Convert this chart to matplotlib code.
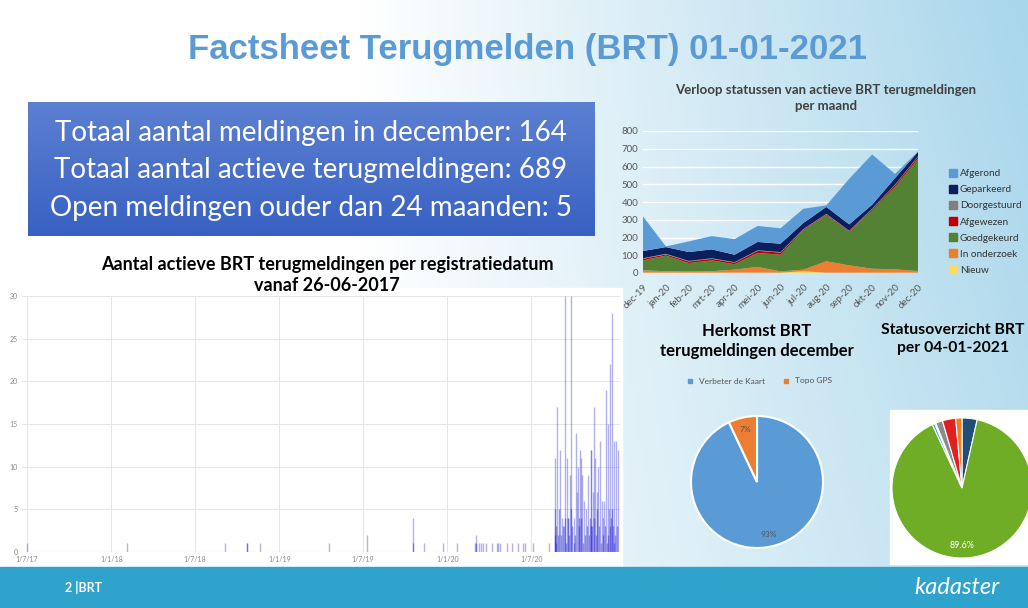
import matplotlib
matplotlib.use("Agg")
import matplotlib.pyplot as plt
import matplotlib.dates as mdates
import numpy as np
from matplotlib import font_manager
from matplotlib.patches import Rectangle
from matplotlib.lines import Line2D

W, H = 1028, 608

# --- data -----------------------------------------------------------------
# stacked area: active reports per status per month
months = ['dec-19', 'jan-20', 'feb-20', 'mrt-20', 'apr-20', 'mei-20', 'jun-20',
          'jul-20', 'aug-20', 'sep-20', 'okt-20', 'nov-20', 'dec-20']
nieuw = [2, 2, 2, 2, 2, 2, 2, 10, 2, 2, 2, 2, 2]
in_onderzoek = [13, 8, 6, 8, 17, 32, 7, 9, 64, 41, 22, 19, 9]
goedgekeurd = [56, 88, 48, 61, 30, 79, 94, 221, 259, 188, 329, 464, 633]
afgewezen = [9, 7, 9, 9, 9, 12, 12, 5, 5, 4, 7, 10, 11]
doorgestuurd = [3, 3, 3, 3, 3, 3, 3, 3, 3, 3, 3, 3, 3]
geparkeerd = [41, 38, 50, 50, 42, 47, 47, 34, 39, 36, 22, 37, 24]
afgerond = [195, 4, 60, 75, 88, 90, 87, 80, 9, 257, 283, 23, 3]
status_names = ['Nieuw', 'In onderzoek', 'Goedgekeurd', 'Afgewezen',
                'Doorgestuurd', 'Geparkeerd', 'Afgerond']
status_colors = ['#FFD966', '#ED7D31', '#548235', '#C00000',
                 '#7F7F7F', '#0A1F5C', '#5B9BD5']

# per registration date
spike_dates = ['2017-07-01', '2018-02-04', '2018-09-04', '2018-10-22', '2018-11-20',
               '2019-04-18', '2019-07-10', '2019-10-18', '2019-11-11', '2019-12-22',
               '2020-01-23', '2020-03-02', '2020-03-04', '2020-03-10', '2020-03-15',
               '2020-03-19', '2020-03-26', '2020-04-08', '2020-04-17', '2020-04-21',
               '2020-04-25', '2020-05-09', '2020-05-20', '2020-06-02', '2020-06-13',
               '2020-06-17', '2020-07-05', '2020-08-09',
               '2020-08-22', '2020-08-27', '2020-09-02', '2020-09-07', '2020-09-11',
               '2020-09-13', '2020-09-17', '2020-09-20', '2020-09-24', '2020-09-26',
               '2020-10-01', '2020-10-07', '2020-10-09', '2020-10-11', '2020-10-16',
               '2020-10-18', '2020-10-20', '2020-10-24', '2020-10-29', '2020-11-02',
               '2020-11-07', '2020-11-09', '2020-11-13', '2020-11-15', '2020-11-17',
               '2020-11-22', '2020-11-24', '2020-11-28', '2020-12-01', '2020-12-05',
               '2020-12-07', '2020-12-11', '2020-12-16', '2020-12-18', '2020-12-20',
               '2020-12-24', '2020-12-29', '2021-01-02', '2021-01-06']
spike_counts = [1, 1, 1, 1, 1,
                1, 2, 4, 1, 1,
                1, 1, 2, 1, 1,
                1, 1, 1, 1, 1,
                1, 1, 1, 1, 1,
                1, 1, 1,
                11, 17, 12, 4, 3,
                30, 11, 4, 9, 30,
                4, 14, 7, 10, 12,
                11, 9, 6, 5, 9,
                12, 12, 7, 17, 11,
                7, 10, 13, 6, 4,
                6, 19, 15, 5, 22,
                28, 13, 13, 12]
low_dates = ['2018-10-22', '2019-10-18', '2020-03-04',
             '2020-08-21', '2020-08-23', '2020-08-25', '2020-08-29', '2020-08-31',
             '2020-09-04', '2020-09-09', '2020-09-15', '2020-09-18', '2020-09-22',
             '2020-09-28', '2020-10-03', '2020-10-05', '2020-10-13', '2020-10-14',
             '2020-10-22', '2020-10-26', '2020-10-31', '2020-11-04', '2020-11-05',
             '2020-11-11', '2020-11-19', '2020-11-20', '2020-11-26', '2020-11-30',
             '2020-12-03', '2020-12-09', '2020-12-13', '2020-12-14', '2020-12-22',
             '2020-12-26', '2020-12-27', '2020-12-31', '2021-01-04',
             '2020-08-22', '2020-09-13', '2020-09-26', '2020-10-18', '2020-11-09',
             '2020-11-15', '2020-12-20', '2020-12-24']
low_counts = [1, 1, 1,
              2, 3, 1, 2, 5,
              2, 3, 1, 4, 2,
              3, 1, 2, 4, 3,
              1, 2, 3, 2, 4,
              3, 2, 5, 3, 1,
              2, 3, 1, 2, 4,
              3, 1, 2, 3,
              5, 4, 5, 4, 3,
              4, 3, 5]

# pies
herkomst_labels = ['Verbeter de Kaart', 'Topo GPS']
herkomst_vals = [93, 7]
status_pie_vals = [24, 617, 4, 2, 11, 21, 10]
status_pie_colors = ['#1F4E79', '#70AD26', '#2E9FD8', '#9DC3E6', '#8C8C8C', '#E02020', '#F07D1E']

info_lines = ['Totaal aantal meldingen in december: 164',
              'Totaal aantal actieve terugmeldingen: 689',
              'Open meldingen ouder dan 24 maanden: 5']

# --- fonts ------------------------------------------------------------------
names = {f.name for f in font_manager.fontManager.ttflist}
body_font = 'Lato' if 'Lato' in names else 'DejaVu Sans'
plt.rcParams['font.family'] = [body_font, 'DejaVu Sans']


def px(x0, y0, x1, y1):
    return [x0 / W, 1 - y1 / H, (x1 - x0) / W, (y1 - y0) / H]


fig = plt.figure(figsize=(W / 100, H / 100), dpi=100)

# background gradient
bg = fig.add_axes([0, 0, 1, 1], zorder=-10)
gx = np.linspace(0, 1, 256)[None, :]
gy = np.linspace(0, 1, 128)[:, None]
t = np.clip((gx - 0.35) / 0.65, 0, 1) * (0.75 + 0.25 * (1 - gy))
c0 = np.array([1.0, 1.0, 1.0])
c1 = np.array([0.66, 0.84, 0.92])
img = c0 + (c1 - c0) * t[..., None]
bg.imshow(img, aspect='auto', extent=[0, 1, 0, 1], origin='upper')
bg.add_patch(Rectangle((0, 0), 622 / W, 1 - 288 / H, color='white'))
bg.add_patch(Rectangle((0, 0), 1, 1 - 567 / H, color='#2FA3CB'))
bg.add_patch(Rectangle((890 / W, 1 - 564 / H), 138 / W, 154 / H, color='white'))
bg.set_xlim(0, 1)
bg.set_ylim(0, 1)
bg.axis('off')

fig.text(528 / W, 1 - 50 / H, 'Factsheet Terugmelden (BRT) 01-01-2021',
         ha='center', va='center', fontsize=25, fontweight='bold', color='#5B9BD5',
         family='Liberation Sans')
fig.text(65 / W, 1 - 587 / H, '2 |BRT', ha='left', va='center', fontsize=9,
         fontweight='bold', color='white')
fig.text(1000 / W, 1 - 588 / H, 'kadaster', ha='right', va='center', fontsize=17,
         style='italic', color='white')

# info box
box = fig.add_axes(px(28, 102, 594, 236))
grad = np.linspace(0, 1, 64)[:, None, None]
top_c = np.array([0.36, 0.50, 0.82])
bot_c = np.array([0.22, 0.38, 0.76])
box.imshow(top_c + (bot_c - top_c) * grad, aspect='auto', extent=[0, 1, 0, 1])
box.set_xlim(0, 1)
box.set_ylim(0, 1)
box.axis('off')
for i, line in enumerate(info_lines):
    box.text(0.5, 0.77 - i * 0.28, line, ha='center', va='center', color='white',
             fontsize=20, transform=box.transAxes)

# registration date chart
ax1 = fig.add_axes(px(22, 296, 620, 552))
d_all = mdates.datestr2num(spike_dates)
d_low = mdates.datestr2num(low_dates)
ax1.vlines(d_all, 0, spike_counts, color='#2020D0', alpha=0.35, lw=1.0)
ax1.vlines(d_low, 0, low_counts, color='#2020D0', alpha=0.45, lw=1.0)
ax1.set_ylim(0, 30)
ax1.set_xlim(mdates.datestr2num('2017-06-21'), mdates.datestr2num('2021-01-10'))
ax1.set_yticks(range(0, 31, 5))
tick_dates = ['2017-07-01', '2018-01-01', '2018-07-01', '2019-01-01',
              '2019-07-01', '2020-01-01', '2020-07-01']
ax1.set_xticks(mdates.datestr2num(tick_dates))
ax1.set_xticklabels(['1/7/17', '1/1/18', '1/7/18', '1/1/19', '1/7/19', '1/1/20', '1/7/20'])
ax1.tick_params(labelsize=5, colors='#888888', length=0, pad=3)
ax1.grid(True, color='#E6E6E6', lw=0.7)
ax1.set_axisbelow(True)
for s in ax1.spines.values():
    s.set_visible(False)
ax1.axhline(0, color='#CCCCCC', lw=0.8)
fig.text(327 / W, 1 - 275 / H,
         'Aantal actieve BRT terugmeldingen per registratiedatum\nvanaf 26-06-2017',
         ha='center', va='center', fontsize=13, fontweight='bold', color='black',
         linespacing=1.25)

# stacked area chart
ax2 = fig.add_axes(px(643, 131, 918, 273))
x = np.arange(len(months))
ax2.stackplot(x, nieuw, in_onderzoek, goedgekeurd, afgewezen, doorgestuurd,
              geparkeerd, afgerond, colors=status_colors, lw=0)
ax2.set_xlim(0, len(months) - 1)
ax2.set_ylim(0, 800)
ax2.set_yticks(range(0, 801, 100))
ax2.set_xticks(x)
ax2.set_xticklabels(months, rotation=45, ha='right', va='top', rotation_mode='anchor')
ax2.tick_params(axis='x', pad=7)
ax2.tick_params(labelsize=7, colors='#555555', length=0)
ax2.set_facecolor('none')
ax2.grid(True, axis='y', color='white', lw=1.0)
ax2.set_axisbelow(True)
for s in ax2.spines.values():
    s.set_visible(False)
fig.text(826 / W, 1 - 98 / H, 'Verloop statussen van actieve BRT terugmeldingen\nper maand',
         ha='center', va='center', fontsize=9.5, fontweight='bold', color='#404040',
         linespacing=1.5)
handles = [Rectangle((0, 0), 1, 1, color=c) for c in status_colors[::-1]]
fig.legend(handles, status_names[::-1], loc='upper left',
           bbox_to_anchor=(944 / W, 1 - 164 / H), frameon=False, fontsize=7.2,
           handlelength=0.8, handleheight=0.8, handletextpad=0.3, labelspacing=0.68,
           borderpad=0, labelcolor='#333333')

# herkomst pie
fig.text(757 / W, 1 - 341 / H, 'Herkomst BRT\nterugmeldingen december', ha='center',
         va='center', fontsize=12, fontweight='bold', color='black', linespacing=1.3)
ax3 = fig.add_axes(px(691, 416, 823, 548))
ax3.pie(herkomst_vals, colors=['#5B9BD5', '#ED7D31'], startangle=90, counterclock=False,
        wedgeprops=dict(edgecolor='white', linewidth=1.5),
        autopct='%d%%', pctdistance=0.82, textprops=dict(fontsize=6, color='#555555'))
ax3.set_xlim(-1, 1)
ax3.set_ylim(-1, 1)
ax3.set_aspect('equal')
leg_h = [Line2D([], [], marker='s', ls='', color=c, markersize=3.5)
         for c in ['#5B9BD5', '#ED7D31']]
fig.legend(leg_h, herkomst_labels, loc='center', bbox_to_anchor=(757 / W, 1 - 381 / H),
           ncol=2, frameon=False, fontsize=6, handletextpad=0.1, columnspacing=1.5,
           labelcolor='#555555')

# status pie
fig.text(953 / W, 1 - 339 / H, 'Statusoverzicht BRT\nper 04-01-2021', ha='center',
         va='center', fontsize=11.3, fontweight='bold', color='black', linespacing=1.35)
ax4 = fig.add_axes(px(892, 418, 1032, 558))
wedges, texts = ax4.pie(status_pie_vals, colors=status_pie_colors, startangle=90,
                        counterclock=False,
                        wedgeprops=dict(edgecolor='white', linewidth=0.8))
ax4.text(0, -0.82, '89.6%', ha='center', va='center', fontsize=6.5, color='white')
ax4.set_xlim(-1, 1)
ax4.set_ylim(-1, 1)
ax4.set_aspect('equal')

fig.savefig('out.png', dpi=100)
